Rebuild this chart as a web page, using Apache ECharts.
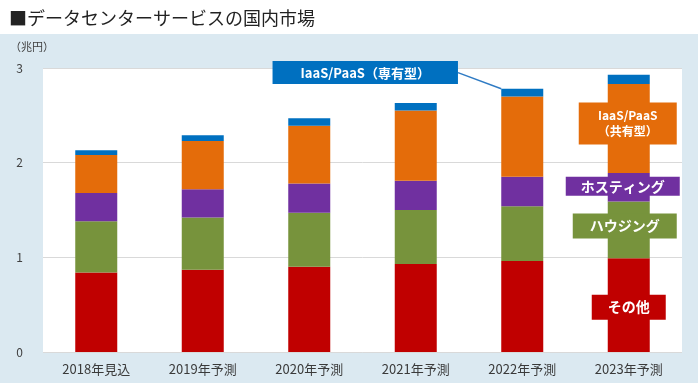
<!DOCTYPE html>
<html>
<head>
<meta charset="utf-8">
<script src="https://cdn.jsdelivr.net/npm/echarts@6/dist/echarts.min.js"></script>
<style>
html,body{margin:0;padding:0;background:#fff;}
#chart{width:698px;height:383px;}
</style>
</head>
<body>
<div id="chart"></div>
<script>
const categories = ['2018年見込', '2019年予測', '2020年予測', '2021年予測', '2022年予測', '2023年予測'];
const seriesNames = ['その他', 'ハウジング', 'ホスティング', 'IaaS/PaaS（共有型）', 'IaaS/PaaS（専有型）'];
const sonota      = [0.84, 0.87, 0.90, 0.93, 0.96, 0.99];
const housing     = [0.54, 0.55, 0.57, 0.57, 0.58, 0.60];
const hosting     = [0.30, 0.30, 0.31, 0.31, 0.31, 0.30];
const iaasShared  = [0.40, 0.51, 0.61, 0.74, 0.85, 0.94];
const iaasDedicated = [0.05, 0.06, 0.08, 0.08, 0.08, 0.10];
const yMin = 0, yMax = 3, yInterval = 1;
const colors = ['#C00000', '#77933C', '#7030A0', '#E46C0A', '#0070C0'];
const FONT = '"Noto Sans CJK JP", "Noto Sans", sans-serif';

function boxLabel(text, color, fontSize, lineHeight, padding, offset) {
  return {
    show: true,
    position: 'inside',
    formatter: text,
    color: '#fff',
    fontFamily: FONT,
    fontWeight: 'bold',
    fontSize: fontSize,
    lineHeight: lineHeight,
    backgroundColor: color,
    padding: padding,
    offset: offset,
    align: 'center'
  };
}

// which data item carries a call-out label for each series
const callouts = [
  { idx: 5, label: boxLabel('その他', colors[0], 14, 15, [5, 16], [0, 2]) },
  { idx: 5, label: boxLabel('ハウジング', colors[1], 14, 15, [5, 17], [-4, -4]) },
  { idx: 5, label: boxLabel('ホスティング', colors[2], 14, 15, [2, 15], [-6, -1]) },
  { idx: 5, label: boxLabel('IaaS/PaaS\n（共有型）', colors[3], 12, 16, [5, 19], [-1, -5]) },
  { idx: 4, label: boxLabel('IaaS/PaaS（専有型）', colors[4], 13, 13, [5, 28], [0, 0]),
    labelLayout: { dx: -157, dy: -20 },
    labelLine: { show: true, lineStyle: { color: '#2f7bc4', width: 1.5 } } }
];

const values = [sonota, housing, hosting, iaasShared, iaasDedicated];
const series = values.map((arr, s) => {
  const c = callouts[s];
  return {
    name: seriesNames[s],
    type: 'bar',
    stack: 'total',
    barWidth: 42,
    itemStyle: { color: colors[s] },
    labelLayout: c.labelLayout,
    labelLine: c.labelLine || { show: false },
    data: arr.map((v, i) => i === c.idx ? { value: v, label: c.label } : v),
    emphasis: { disabled: true }
  };
});

const chart = echarts.init(document.getElementById('chart'), null, { renderer: 'canvas' });
chart.setOption({
  animation: false,
  backgroundColor: '#dbe9f1',
  graphic: [
    { type: 'rect', left: 0, top: 0, shape: { width: 698, height: 34 }, style: { fill: '#ffffff' }, z: -10 },
    { type: 'text', left: 9, top: 9, style: { text: '■データセンターサービスの国内市場', fill: '#222', font: '18px ' + FONT } },
    { type: 'text', left: 10, top: 41, style: { text: '（兆円）', fill: '#404040', font: '11px ' + FONT } }
  ],
  grid: { left: 43, right: 16, top: 68, bottom: 31, show: true, backgroundColor: '#ffffff', borderWidth: 0 },
  xAxis: {
    type: 'category',
    data: categories,
    axisLine: { show: false },
    axisTick: { show: false },
    axisLabel: { color: '#3a3a3a', fontSize: 13, fontFamily: FONT, margin: 11 }
  },
  yAxis: {
    type: 'value',
    min: yMin, max: yMax, interval: yInterval,
    axisLine: { show: false },
    axisTick: { show: false },
    splitLine: { lineStyle: { color: '#d9d9d9', width: 1 } },
    axisLabel: { color: '#404040', fontSize: 12, fontFamily: FONT, margin: 20 }
  },
  series: series
});
</script>
</body>
</html>
